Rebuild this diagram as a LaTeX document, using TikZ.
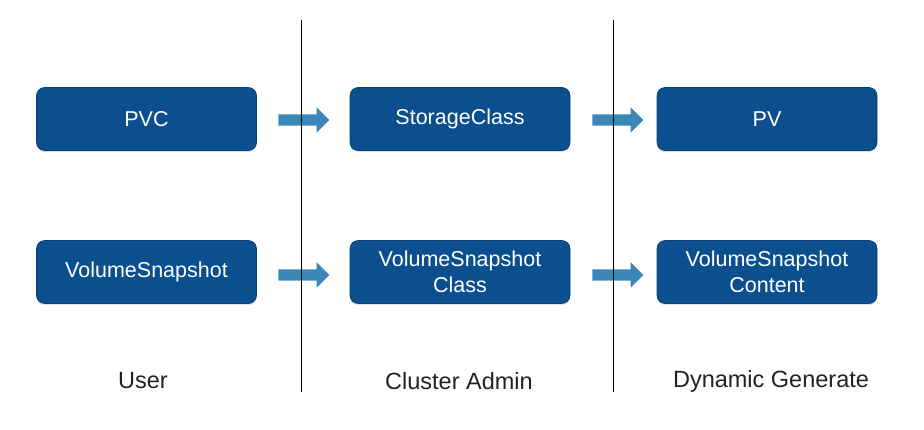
\documentclass[tikz,border=0pt]{standalone}
\usepackage{fontspec}
\setmainfont{Liberation Sans}
\usetikzlibrary{shapes.arrows,shadows}
\definecolor{boxblue}{HTML}{0B4F8E}
\definecolor{arrowblue}{HTML}{3A87B8}
\definecolor{labelgray}{HTML}{222222}
\begin{document}
\begin{tikzpicture}[x=1pt,y=-1pt,
  box/.style={draw=boxblue!80!black, line width=0.6pt, fill=boxblue, rounded corners=8pt,
    minimum width=220pt, minimum height=63pt, text=white, align=center,
    font=\fontsize{21.5}{26}\selectfont, inner sep=0pt,
    drop shadow={shadow xshift=0pt, shadow yshift=-1.5pt, opacity=0.25}},
  flow/.style={single arrow, fill=arrowblue, draw=none, inner xsep=0pt, inner ysep=5.5pt,
    single arrow head extend=7pt, single arrow tip angle=90, minimum height=51pt},
  lbl/.style={text=labelgray, font=\fontsize{23.5}{28}\selectfont, inner sep=0pt},
  divider/.style={black, line width=0.9pt}]
\useasboundingbox (0,0) rectangle (924,429);
% boxes
\node[box] (pvc) at (146.5,119) {PVC};
\node[box] (sc) at (460,119) {StorageClass};
\node[box] (pv) at (767,119) {PV};
\node[box] (vs) at (146.5,272) {VolumeSnapshot};
\node[box] (vsc) at (460,272) {VolumeSnapshot\\Class};
\node[box] (vscc) at (767,272) {VolumeSnapshot\\Content};
% arrows
\node[flow] (a1) at (301,120) {};
\node[flow] (a2) at (615,120) {};
\node[flow] (a3) at (301,275) {};
\node[flow] (a4) at (615,275) {};
% dividers
\coordinate (d1t) at (301,20);
\coordinate (d1b) at (301,392);
\coordinate (d2t) at (613,20);
\coordinate (d2b) at (613,392);
\draw[divider] (d1t) -- (d1b);
\draw[divider] (d2t) -- (d2b);
% labels
\node[lbl] (user) at (143,381) {User};
\node[lbl] (admin) at (459,381) {Cluster Admin};
\node[lbl] (dyn) at (771,381) {Dynamic Generate};
\end{tikzpicture}
\end{document}
